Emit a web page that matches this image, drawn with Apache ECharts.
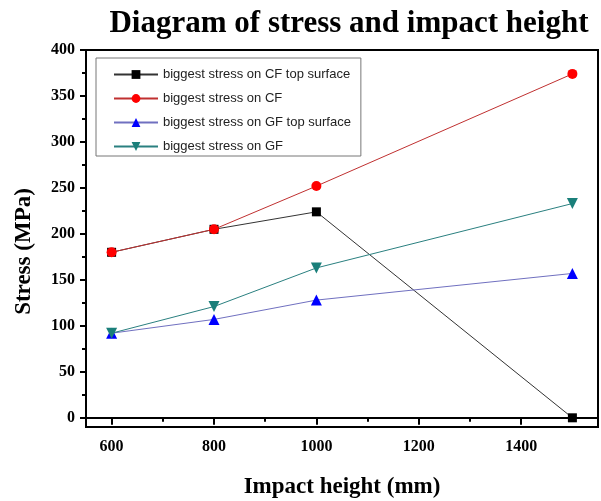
<!DOCTYPE html>
<html>
<head>
<meta charset="utf-8">
<script src="https://cdn.jsdelivr.net/npm/echarts@6/dist/echarts.min.js"></script>
<style>html,body{margin:0;padding:0;background:#fff}#c{width:601px;height:501px}</style>
</head>
<body>
<div id="c"></div>
<script>
var heights = [600, 800, 1000, 1500];
var cfTop = [180, 205, 224, 0];
var cf = [180, 205, 252, 374];
var gfTop = [92, 107, 128, 157];
var gf = [92, 121, 163, 233];
var seriesNames = ['biggest stress on CF top surface', 'biggest stress on CF', 'biggest stress on GF top surface', 'biggest stress on GF'];
var xMajor = [600, 800, 1000, 1200, 1400];
var xMinor = [700, 900, 1100, 1300, 1500];
var yMajor = [0, 50, 100, 150, 200, 250, 300, 350, 400];
var yMinor = [25, 75, 125, 175, 225, 275, 325, 375];

function pairs(vals) { return heights.map(function (h, i) { return [h, vals[i]]; }); }
function plain(v) { return String(v); }

var serif = '"Liberation Serif", "Times New Roman", serif';
var chart = echarts.init(document.getElementById('c'), null, {renderer: 'canvas'});
var xBase = {type: 'value', min: 550, max: 1550, splitLine: {show: false}, position: 'bottom'};
var yBase = {type: 'value', min: -10, max: 400, splitLine: {show: false}, position: 'left'};
chart.setOption({
  animation: false,
  backgroundColor: '#fff',
  title: {
    text: 'Diagram of stress and impact height',
    left: 344, top: 3, textAlign: 'center',
    textStyle: {fontFamily: serif, fontWeight: 'bold', fontSize: 31, color: '#000'}
  },
  grid: {left: 86, right: 3, top: 50, bottom: 74, show: true, borderColor: '#000', borderWidth: 2,
    backgroundColor: 'transparent', containLabel: false, outerBoundsMode: 'none'},
  legend: {
    orient: 'vertical', left: 96, top: 58,
    backgroundColor: '#fff',
    borderColor: '#777', borderWidth: 1,
    padding: [10, 10, 3, 17],
    itemGap: 11, itemWidth: 44, itemHeight: 11,
    textStyle: {fontFamily: '"Liberation Sans", Arial, sans-serif', fontSize: 13, color: '#222'},
    data: seriesNames
  },
  xAxis: [
    Object.assign({}, xBase, {
      name: 'Impact height (mm)', nameLocation: 'middle', nameGap: 49,
      nameTextStyle: {fontFamily: serif, fontWeight: 'bold', fontSize: 23, color: '#000'},
      axisLine: {show: true, lineStyle: {color: '#000', width: 2}},
      axisTick: {show: true, inside: false, length: 7, lineStyle: {color: '#000', width: 2}, customValues: xMajor},
      axisLabel: {show: true, margin: 12, fontFamily: serif, fontWeight: 'bold', fontSize: 16, color: '#000', customValues: xMajor, formatter: plain}
    }),
    Object.assign({}, xBase, {
      axisLine: {show: false},
      axisTick: {show: true, inside: false, length: 4, lineStyle: {color: '#000', width: 2}, customValues: xMinor},
      axisLabel: {show: false}
    })
  ],
  yAxis: [
    Object.assign({}, yBase, {
      name: 'Stress (MPa)', nameLocation: 'middle', nameGap: 50, nameRotate: 90,
      nameTextStyle: {fontFamily: serif, fontWeight: 'bold', fontSize: 23, color: '#000', padding: [0, 26, 0, 0]},
      axisLine: {show: true, lineStyle: {color: '#000', width: 2}},
      axisTick: {show: true, inside: false, length: 6, lineStyle: {color: '#000', width: 2}, customValues: yMajor},
      axisLabel: {show: true, margin: 11, fontFamily: serif, fontWeight: 'bold', fontSize: 16, color: '#000', customValues: yMajor, formatter: plain}
    }),
    Object.assign({}, yBase, {
      axisLine: {show: false},
      axisTick: {show: true, inside: false, length: 4, lineStyle: {color: '#000', width: 2}, customValues: yMinor},
      axisLabel: {show: false}
    })
  ],
  series: [
    {name: seriesNames[0], type: 'line', data: pairs(cfTop), symbol: 'rect', symbolSize: 9,
      itemStyle: {color: '#000'}, lineStyle: {color: '#333', width: 1}},
    {name: seriesNames[1], type: 'line', data: pairs(cf), symbol: 'circle', symbolSize: 10,
      itemStyle: {color: '#ff0000'}, lineStyle: {color: '#c03030', width: 1}},
    {name: seriesNames[2], type: 'line', data: pairs(gfTop), symbol: 'triangle', symbolSize: 11,
      itemStyle: {color: '#0000ff'}, lineStyle: {color: '#7070c0', width: 1}},
    {name: seriesNames[3], type: 'line', data: pairs(gf), symbol: 'triangle', symbolRotate: 180, symbolSize: 11,
      itemStyle: {color: '#1a7f7a'}, lineStyle: {color: '#2a8080', width: 1}}
  ]
});
</script>
</body>
</html>
